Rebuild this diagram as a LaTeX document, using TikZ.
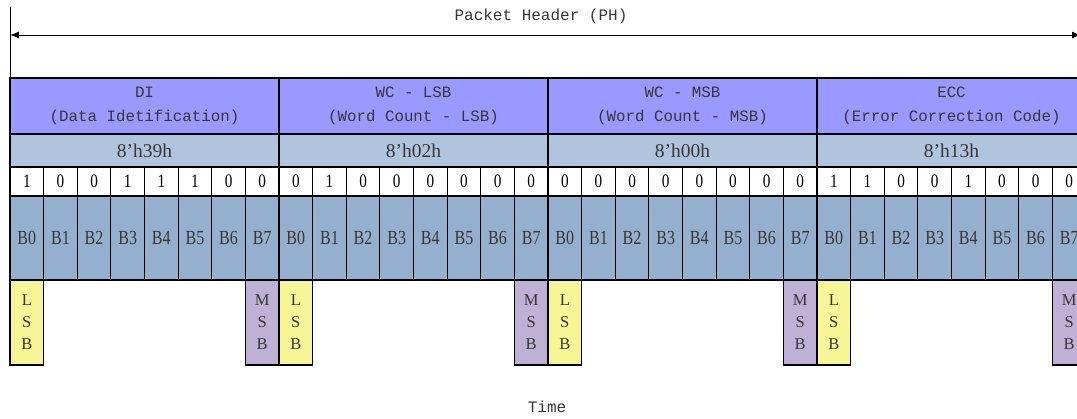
\documentclass[tikz,border=0pt]{standalone}
\usepackage{fontspec}
\setmainfont{Liberation Serif}
\newfontfamily\monof{Liberation Mono}
\usetikzlibrary{arrows.meta}
\definecolor{hdr}{RGB}{153,153,255}
\definecolor{hexc}{RGB}{176,196,222}
\definecolor{bitc}{RGB}{149,176,206}
\definecolor{lsbc}{RGB}{246,246,150}
\definecolor{msbc}{RGB}{191,176,213}
\definecolor{txt}{RGB}{55,55,55}
\newcommand{\nar}[1]{\scalebox{0.8}[1]{#1}}
\tikzset{
  cell/.style={draw=black, line width=1.1pt, inner sep=0pt, text=txt},
  hdrbox/.style={cell, fill=hdr, minimum width=269pt, minimum height=56pt, align=center,
    font=\monof\fontsize{15.8}{24}\selectfont},
  hexbox/.style={cell, fill=hexc, minimum width=269pt, minimum height=33pt,
    font=\fontsize{19.5}{20}\selectfont},
  bitbox/.style={cell, fill=white, minimum width=33.625pt, minimum height=29pt, text=black,
    font=\fontsize{19}{20}\selectfont},
  bbox/.style={cell, fill=bitc, minimum width=33.625pt, minimum height=84pt,
    font=\fontsize{20}{22}\selectfont},
  sidebox/.style={cell, minimum width=33.625pt, minimum height=85pt, align=center,
    font=\fontsize{16.5}{22}\selectfont},
  lsbbox/.style={sidebox, fill=lsbc},
  msbbox/.style={sidebox, fill=msbc},
  lbl/.style={text=txt, font=\monof\fontsize{16}{18}\selectfont}
}
\begin{document}
\begin{tikzpicture}[x=1pt,y=-1pt]
\useasboundingbox (0,0) rectangle (1077,418);
\clip (0,0) rectangle (1077,418);
% title and arrow
\node[lbl] (title) at (541,16) {Packet Header (PH)};
\coordinate (vtop) at (10,7);
\coordinate (vbot) at (10,78);
\draw[line width=1pt] (vtop) -- (vbot);
\coordinate (aL) at (10,35);
\coordinate (aR) at (1081,35);
\draw[line width=1pt, {Latex[length=9pt,width=7pt]}-{Latex[length=9pt,width=7pt]}] (aL) -- (aR);
% header row
\node[hdrbox] (hd0) at (144.5,106) {DI\\(Data Idetification)};
\node[hdrbox] (hd1) at (413.5,106) {WC - LSB\\(Word Count - LSB)};
\node[hdrbox] (hd2) at (682.5,106) {WC - MSB\\(Word Count - MSB)};
\node[hdrbox] (hd3) at (951.5,106) {ECC\\(Error Correction Code)};
% hex row
\node[hexbox] (hx0) at (144.5,150.5) {8’h39h};
\node[hexbox] (hx1) at (413.5,150.5) {8’h02h};
\node[hexbox] (hx2) at (682.5,150.5) {8’h00h};
\node[hexbox] (hx3) at (951.5,150.5) {8’h13h};
% bit rows
\foreach \v [count=\k from 0] in {1,0,0,1,1,1,0,0, 0,1,0,0,0,0,0,0, 0,0,0,0,0,0,0,0, 1,1,0,0,1,0,0,0}{
  \pgfmathtruncatemacro{\bi}{mod(\k,8)}
  \pgfmathsetmacro{\xc}{10+33.625*\k+16.8125}
  \node[bitbox] (bit\k) at (\xc,181.5) {\nar{\v}};
  \node[bbox] (b\k) at (\xc,238) {\nar{B\bi}};
}
% LSB / MSB markers
\foreach \g in {0,1,2,3}{
  \pgfmathsetmacro{\xl}{10+269*\g+16.8125}
  \pgfmathsetmacro{\xm}{10+269*\g+235.375+16.8125}
  \node[lsbbox] (lsb\g) at (\xl,322.5) {L\\S\\B};
  \node[msbbox] (msb\g) at (\xm,322.5) {M\\S\\B};
}
\node[lbl] (time) at (547,407) {Time};
\end{tikzpicture}
\end{document}
